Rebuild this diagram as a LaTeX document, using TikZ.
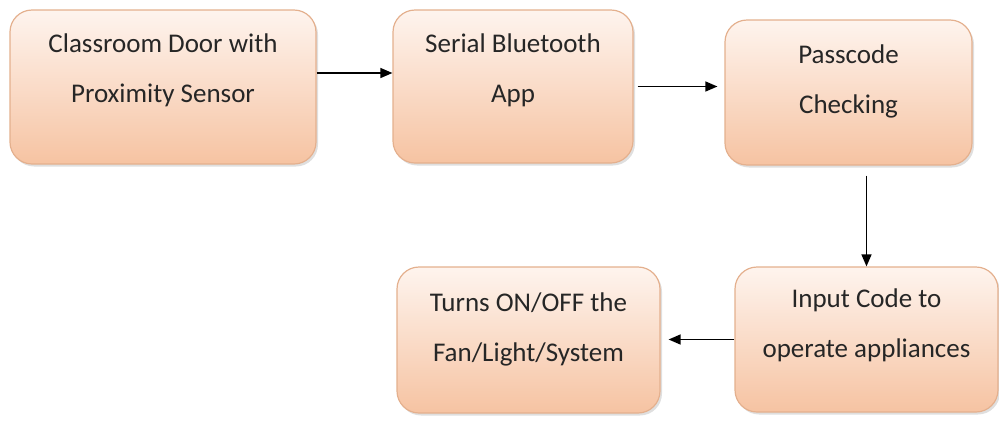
\documentclass[tikz,border=0pt]{standalone}
\usepackage{fontspec}
\setmainfont{Carlito}
\usetikzlibrary{arrows.meta,shadows}

\definecolor{peachtop}{HTML}{FEF4EE}
\definecolor{peachbot}{HTML}{F6C3A2}
\definecolor{peachline}{HTML}{E4B08E}
\definecolor{txtgray}{HTML}{262626}

\tikzset{
	block/.style={draw=peachline, line width=1.2pt, rounded corners=22pt, inner sep=0pt,
		top color=peachtop, bottom color=peachbot,
		drop shadow={opacity=0.25, shadow xshift=2pt, shadow yshift=-2.5pt}},
	lbl/.style={align=center, text=txtgray, font=\fontsize{27}{50}\selectfont},
	arr/.style={line width=1.4pt, -{Triangle[length=12pt,width=10pt]}}
}

\begin{document}
\begin{tikzpicture}[x=1pt, y=-1pt]
			\useasboundingbox (0,0) rectangle (999,421);
			
			% boxes
			\node[block, minimum width=306pt, minimum height=154pt] (door) at (163,87) {};
			\node[block, minimum width=240pt, minimum height=153pt] (app) at (513,86.5) {};
			\node[block, minimum width=247pt, minimum height=145pt] (pass) at (848.5,92.5) {};
			\node[block, minimum width=263pt, minimum height=145pt] (input) at (866.5,339.5) {};
			\node[block, minimum width=263pt, minimum height=146pt] (fan) at (528.5,340) {};
			
			% texts
			\node[lbl] (door-t) at ([yshift=17pt]door.center) {Classroom Door with\\Proximity Sensor};
			\node[lbl] (app-t) at ([yshift=16pt]app.center) {Serial Bluetooth\\App};
			\node[lbl] (pass-t) at ([yshift=11pt]pass.center) {Passcode\\Checking};
			\node[lbl] (input-t) at ([yshift=14pt]input.center) {Input Code to\\operate appliances};
			\node[lbl] (fan-t) at ([yshift=11pt]fan.center) {Turns ON/OFF the\\Fan/Light/System};
			
			% arrows
			\draw[arr] ([yshift=14pt]door.east) -- ([yshift=14pt]door.east -| app.west);
			\draw[arr, shorten <=4pt, shorten >=7pt] (app.east) -- (app.east -| pass.west);
			\draw[arr, shorten <=10pt] (pass.south -| input.north) -- (input.north);
			\draw[arr, shorten >=8pt] (input.west) -- (input.west -| fan.east);
		\end{tikzpicture}
\end{document}
